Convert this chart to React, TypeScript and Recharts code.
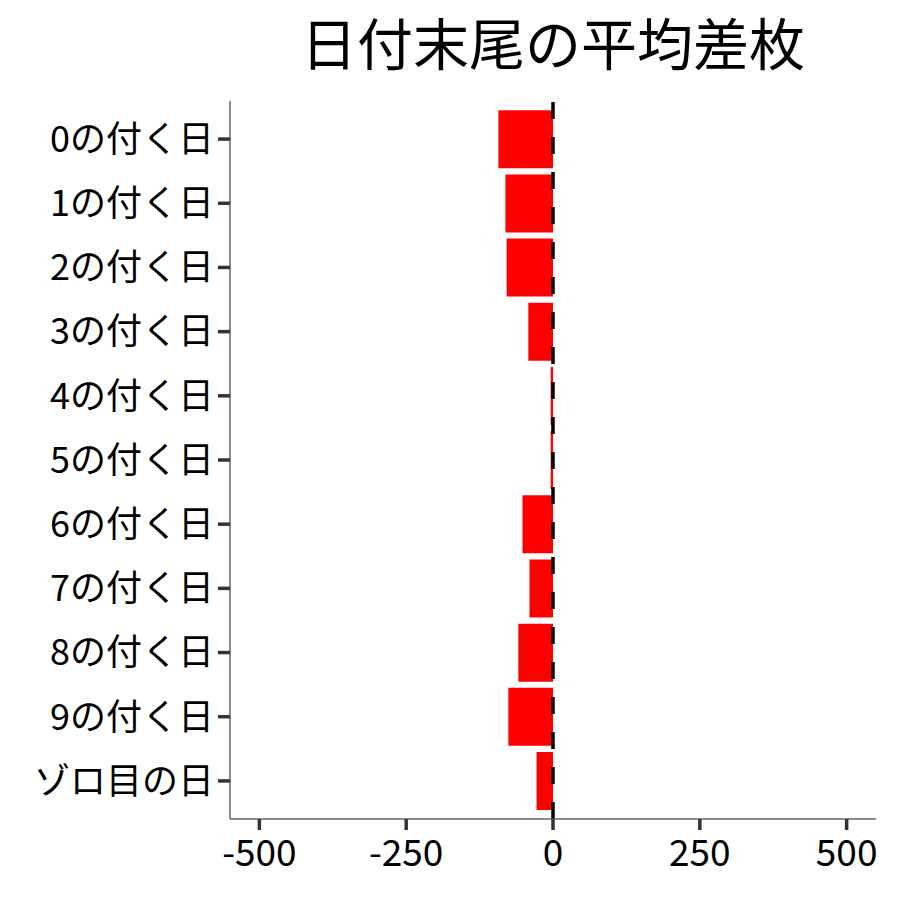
import { BarChart, Bar, XAxis, YAxis, ReferenceLine } from "recharts";

const dayLabels = [
  "0の付く日",
  "1の付く日",
  "2の付く日",
  "3の付く日",
  "4の付く日",
  "5の付く日",
  "6の付く日",
  "7の付く日",
  "8の付く日",
  "9の付く日",
  "ゾロ目の日",
];
const avgDiff = [-93, -81, -79, -42, -4, -4, -52, -40, -59, -76, -28];
const xTicks = [-500, -250, 0, 250, 500];

const data = dayLabels.map((label, i) => ({ label, diff: avgDiff[i] }));

const FONT = '"Noto Sans CJK JP", "Noto Sans", sans-serif';

export default function App() {
  return (
    <div style={{ position: "absolute", left: 0, top: 0, width: 900, height: 900, background: "#fff", fontFamily: FONT }}>
      <div
        style={{
          position: "absolute",
          left: 230,
          width: 646,
          top: 13,
          textAlign: "center",
          fontSize: 56,
          lineHeight: 1,
          color: "#000",
        }}
      >
        日付末尾の平均差枚
      </div>
      <BarChart
        width={900}
        height={900}
        data={data}
        layout="vertical"
        margin={{ top: 101, right: 24, bottom: 0, left: 0 }}
        barCategoryGap="5%"
        style={{ position: "absolute", left: 0, top: 0 }}
      >
        <XAxis
          type="number"
          domain={[-550, 550]}
          ticks={xTicks}
          height={81}
          tickSize={11}
          tickMargin={10}
          axisLine={{ stroke: "#666", strokeWidth: 1.5 }}
          tickLine={{ stroke: "#333", strokeWidth: 3.5 }}
          tick={{ fill: "#000", fontSize: 37, fontFamily: FONT }}
        />
        <YAxis
          type="category"
          dataKey="label"
          width={230}
          padding={{ top: 6, bottom: 6 }}
          tickSize={12}
          tickMargin={4}
          axisLine={{ stroke: "#666", strokeWidth: 1.5 }}
          tickLine={{ stroke: "#333", strokeWidth: 3.5 }}
          tick={{ fill: "#000", fontSize: 36, fontFamily: FONT }}
        />
        <Bar dataKey="diff" fill="#FF0000" isAnimationActive={false} />
        <ReferenceLine x={0} stroke="#000" strokeWidth={3.5} strokeDasharray="17 18" />
      </BarChart>
    </div>
  );
}
